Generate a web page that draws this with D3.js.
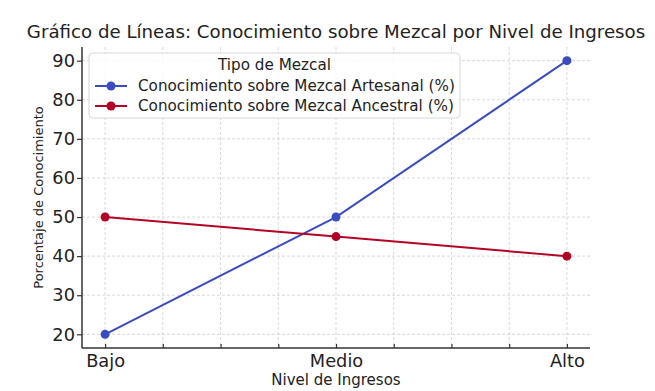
<!DOCTYPE html>
<html>
<head>
<meta charset="utf-8">
<script src="https://cdn.jsdelivr.net/npm/d3@7"></script>
<style>
  html, body { margin: 0; padding: 0; background: #fff; }
  svg { display: block; }
  text { font-family: "DejaVu Sans", sans-serif; fill: #222; }
</style>
</head>
<body>
<svg id="chart" width="655" height="391"></svg>
<script>
const categories = ["Bajo", "Medio", "Alto"];
const artesanal = [20, 50, 90];
const ancestral = [50, 45, 40];
const seriesNames = ["Conocimiento sobre Mezcal Artesanal (%)", "Conocimiento sobre Mezcal Ancestral (%)"];
const seriesColors = ["#3b4cc0", "#b40426"];
const yTicks = [20, 30, 40, 50, 60, 70, 80, 90];
const xGridTicks = [0, 0.25, 0.5, 0.75, 1, 1.25, 1.5, 1.75, 2];
const titleText = "Gráfico de Líneas: Conocimiento sobre Mezcal por Nivel de Ingresos";
const xLabel = "Nivel de Ingresos";
const yLabel = "Porcentaje de Conocimiento";
const legendTitle = "Tipo de Mezcal";

const svg = d3.select("#chart");
const L = 82, R = 590, T = 47, B = 348;
const x = d3.scaleLinear().domain([-0.1, 2.1]).range([L, R]);
const y = d3.scaleLinear().domain([16.5, 93.5]).range([B, T]);

// grid
const grid = svg.append("g");
grid.selectAll("line.v").data(xGridTicks).join("line")
  .attr("x1", d => x(d)).attr("x2", d => x(d)).attr("y1", T).attr("y2", B)
  .attr("stroke", "#cfcfcf").attr("stroke-width", 0.8).attr("stroke-dasharray", "3,2");
grid.selectAll("line.h").data(yTicks).join("line")
  .attr("x1", L).attr("x2", R).attr("y1", d => y(d)).attr("y2", d => y(d))
  .attr("stroke", "#cfcfcf").attr("stroke-width", 0.8).attr("stroke-dasharray", "3,2");

// axes
const xAxis = d3.axisBottom(x).tickValues(xGridTicks).tickSizeInner(-4).tickSizeOuter(0)
  .tickFormat(d => Number.isInteger(d) ? categories[d] : "");
const gx = svg.append("g").attr("transform", `translate(0,${B})`).call(xAxis);
gx.select(".domain").remove();
gx.selectAll(".tick line").attr("stroke", "#333").attr("stroke-width", 1.2);
gx.selectAll(".tick text").attr("font-size", 17.8).attr("fill", "#222").attr("y", 6).attr("dy", "0.71em");
svg.append("line").attr("x1", L).attr("x2", R).attr("y1", B).attr("y2", B).attr("stroke", "#333").attr("stroke-width", 1.5);

const yAxis = d3.axisLeft(y).tickValues(yTicks).tickSizeInner(5).tickSizeOuter(0);
const gy = svg.append("g").attr("transform", `translate(${L},0)`).call(yAxis);
gy.select(".domain").remove();
gy.selectAll(".tick line").attr("stroke", "#333").attr("stroke-width", 1.2);
gy.selectAll(".tick text").attr("font-size", 17.8).attr("fill", "#222").attr("x", -7);
svg.append("line").attr("x1", L).attr("x2", L).attr("y1", T).attr("y2", B).attr("stroke", "#333").attr("stroke-width", 1.5);

// lines
const line = d3.line().x((d, i) => x(i)).y(d => y(d));
[artesanal, ancestral].forEach((vals, k) => {
  svg.append("path").datum(vals).attr("d", line).attr("fill", "none")
    .attr("stroke", seriesColors[k]).attr("stroke-width", 2);
  svg.selectAll(null).data(vals).join("circle")
    .attr("cx", (d, i) => x(i)).attr("cy", d => y(d)).attr("r", 4.5)
    .attr("fill", seriesColors[k]);
});

// title and labels
svg.append("text").attr("x", (L + R) / 2).attr("y", 38).attr("text-anchor", "middle")
  .attr("font-size", 18.2).text(titleText);
svg.append("text").attr("x", (L + R) / 2).attr("y", 385).attr("text-anchor", "middle")
  .attr("font-size", 15).text(xLabel);
svg.append("text").attr("transform", `translate(43,${(T + B) / 2}) rotate(-90)`).attr("text-anchor", "middle")
  .attr("font-size", 13).text(yLabel);

// legend
const lg = svg.append("g");
lg.append("rect").attr("x", 89).attr("y", 53).attr("width", 371).attr("height", 65).attr("rx", 4)
  .attr("fill", "#fff").attr("fill-opacity", 0.85).attr("stroke", "#d6d6d6").attr("stroke-width", 1);
lg.append("text").attr("x", 274.5).attr("y", 70).attr("text-anchor", "middle").attr("font-size", 15.2).text(legendTitle);
seriesNames.forEach((name, k) => {
  const cy = 86 + k * 20;
  lg.append("line").attr("x1", 95).attr("x2", 127).attr("y1", cy).attr("y2", cy)
    .attr("stroke", seriesColors[k]).attr("stroke-width", 2);
  lg.append("circle").attr("cx", 111).attr("cy", cy).attr("r", 4.5).attr("fill", seriesColors[k]);
  lg.append("text").attr("x", 138).attr("y", cy + 5).attr("font-size", 15.2).text(name);
});
</script>
</body>
</html>
